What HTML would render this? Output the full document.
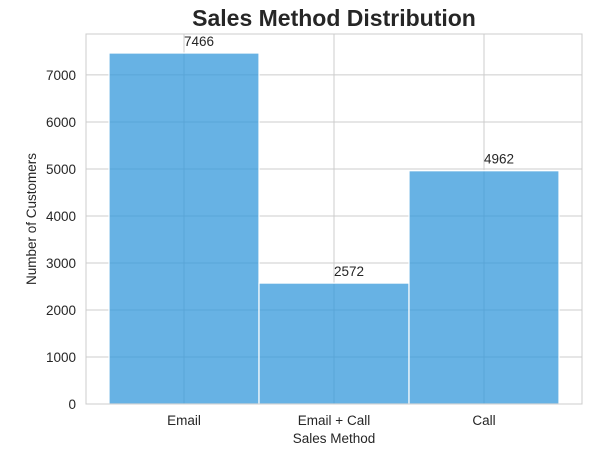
<!DOCTYPE html>
<html><head><meta charset="utf-8"><style>
body{margin:0;background:#fff;}
svg{font-family:"Liberation Sans","DejaVu Sans",sans-serif;}
</style></head><body>
<svg id="chart" width="609" height="453" viewBox="0 0 609 453" xmlns="http://www.w3.org/2000/svg">
<rect width="609" height="453" fill="#fff"/>
<text x="334" y="26" text-anchor="middle" font-size="23" font-weight="bold" fill="#262626">Sales Method Distribution</text>
<g id="grid"></g>
<g id="bars"></g>
<rect x="86" y="34" width="496" height="370" fill="none" stroke="#cccccc" stroke-width="1"/>
<g id="axes"></g>
<text x="334" y="443" text-anchor="middle" font-size="13.5" fill="#262626">Sales Method</text>
<text transform="translate(36,219) rotate(-90)" text-anchor="middle" font-size="13.5" fill="#262626">Number of Customers</text>
</svg>
<script>
const categories = ["Email", "Email + Call", "Call"];
const values = [7466, 2572, 4962];
const yTicks = [0, 1000, 2000, 3000, 4000, 5000, 6000, 7000];

const NS = "http://www.w3.org/2000/svg";
const x0 = 109, bw = 150, yBase = 404, k = 0.04701;
const yScale = v => yBase - v * k;
const xCenter = i => x0 + bw * i + bw / 2;
function mk(tag, attrs, parent, text) {
  const e = document.createElementNS(NS, tag);
  for (const a in attrs) e.setAttribute(a, attrs[a]);
  if (text !== undefined) e.textContent = text;
  parent.appendChild(e);
  return e;
}
const grid = document.getElementById("grid");
const bars = document.getElementById("bars");
const axes = document.getElementById("axes");
yTicks.forEach(t => {
  const y = yScale(t);
  const l = mk("line", {x1: 86, x2: 582, y1: y, y2: y, stroke: "#cccccc", "stroke-width": 1}, grid);
  
  
  const tx = mk("text", {x: 76, y: y + 5, "text-anchor": "end", "font-size": 13.5, fill: "#262626"}, axes, String(t));
  
  
});
categories.forEach((c, i) => {
  const xc = xCenter(i);
  const l = mk("line", {x1: xc, x2: xc, y1: 34, y2: 404, stroke: "#cccccc", "stroke-width": 1}, grid);
  
  
  const tx = mk("text", {x: xc, y: 425, "text-anchor": "middle", "font-size": 13.5, fill: "#262626"}, axes, c);
  
  
});
values.forEach((v, i) => {
  const y = yScale(v);
  const r = mk("rect", {x: x0 + bw * i, y: y, width: bw, height: yBase - y, fill: "#3498db", "fill-opacity": 0.75, stroke: "#ffffff", "stroke-width": 1.2}, bars);
  
  
  const t = mk("text", {x: xCenter(i), y: y - 7, "font-size": 13.5, fill: "#262626"}, bars, String(v));
  
  
});
</script>
</body></html>
